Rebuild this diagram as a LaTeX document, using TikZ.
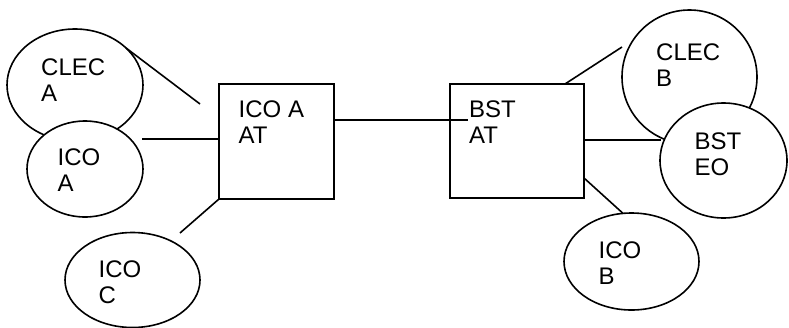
\documentclass[tikz,border=0pt]{standalone}
\usepackage{fontspec}
\setmainfont{Liberation Sans}
\usetikzlibrary{shapes.geometric}
\newcommand\twolines[2]{\begin{tabular}[t]{@{}l@{}}#1\\#2\end{tabular}}
\begin{document}
\begin{tikzpicture}[x=1pt,y=-1pt,
  conn/.style={line width=1.6pt},
  site/.style={ellipse, draw, line width=1.6pt, fill=white, inner sep=0pt, outer sep=0pt},
  office/.style={rectangle, draw, line width=1.6pt, inner sep=0pt, outer sep=0pt},
  lbl/.style={anchor=base west, inner sep=0pt, font=\fontsize{24}{26.5}\selectfont}]
\useasboundingbox (0,0) rectangle (789,327);

% offices (boxes)
\node[office, minimum width=115pt, minimum height=115pt] (icoAat) at (276.5,141.5) {};
\node[office, minimum width=134pt, minimum height=114pt] (bstat) at (517,141) {};

% sites (ellipses)
\node[site, minimum width=136pt, minimum height=112pt] (clecA) at (75,85) {};
\node[site, minimum width=116pt, minimum height=96pt] (icoA) at (85,169) {};
\node[site, minimum width=135pt, minimum height=95pt] (icoC) at (132.5,280) {};
\node[site, minimum width=135pt, minimum height=134pt] (clecB) at (689.5,77) {};
\node[site, minimum width=127pt, minimum height=115pt] (bsteo) at (723.5,160.5) {};
\node[site, minimum width=135pt, minimum height=97pt] (icoB) at (631.5,261.5) {};

% labels
\node[lbl] (tclecA) at (41,75) {\twolines{CLEC}{A}};
\node[lbl] (ticoA) at (57.5,165) {\twolines{ICO}{A}};
\node[lbl] (ticoAat) at (238.5,117) {\twolines{ICO A}{AT}};
\node[lbl] (ticoC) at (98.5,277) {\twolines{ICO}{C}};
\node[lbl] (tbstat) at (469,117) {\twolines{BST}{AT}};
\node[lbl] (tclecB) at (656,60) {\twolines{CLEC}{B}};
\node[lbl] (tbsteo) at (694.5,149) {\twolines{BST}{EO}};
\node[lbl] (ticoB) at (598.5,258) {\twolines{ICO}{B}};

% free ends of connectors
\coordinate (pA) at (200,104);
\coordinate (pB) at (142,139);
\coordinate (pC) at (180,233);
\coordinate (pD) at (468,120);
\coordinate (pE) at (565,84);
\coordinate (pF) at (622,47);
\coordinate (pG) at (661,140);
\coordinate (pH) at (584,178);

% connectors
\draw[conn] (clecA.36) -- (pA);
\draw[conn] (pB) -- (pB -| icoAat.west);
\draw[conn] (icoAat.south west) -- (pC);
\draw[conn] (pD -| icoAat.east) -- (pD);
\draw[conn] (pE) -- (pF);
\draw[conn] (bstat.east |- pG) -- (pG);
\draw[conn] (bstat.east |- pH) -- (icoB.100);
\end{tikzpicture}
\end{document}
